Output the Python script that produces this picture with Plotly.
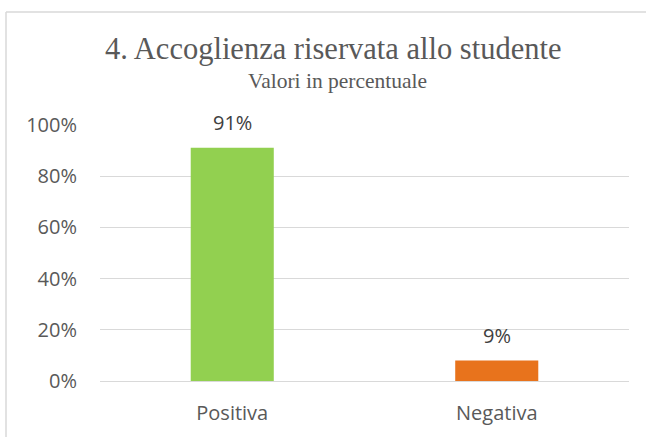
import plotly.graph_objects as go

categories = ["Positiva", "Negativa"]
values = [0.911, 0.08]
value_labels = ["91%", "9%"]
bar_colors = ["#92D050", "#E8731C"]
y_ticks = [0, 0.2, 0.4, 0.6, 0.8, 1.0]
y_tick_labels = ["0%", "20%", "40%", "60%", "80%", "100%"]

title_text = "4. Accoglienza riservata allo studente"
subtitle_text = "Valori in percentuale"

W, H = 646, 437
L, R, T, B = 100, 17, 125, 56
pw = W - L - R
ph = H - T - B

def px_x(x):
    return (x - L) / pw

def px_y(y):
    return (H - B - y) / ph

fig = go.Figure()
fig.add_trace(go.Bar(
    x=categories, y=values,
    marker=dict(color=bar_colors, line=dict(width=0)),
    hoverinfo="skip",
))

annotations = []
for c, v, t in zip(categories, values, value_labels):
    annotations.append(dict(
        x=c, y=v, xref="x", yref="y", text=t, showarrow=False,
        yanchor="middle", yshift=25,
        font=dict(family="Open Sans", size=20, color="#404040"),
    ))
annotations.append(dict(
    x=px_x(333), y=px_y(49), xref="paper", yref="paper", text=title_text,
    showarrow=False, xanchor="center", yanchor="middle",
    font=dict(family="Liberation Serif", size=30.5, color="#595959"),
))
annotations.append(dict(
    x=px_x(337), y=px_y(81), xref="paper", yref="paper", text=subtitle_text,
    showarrow=False, xanchor="center", yanchor="middle",
    font=dict(family="Liberation Serif", size=21.5, color="#595959"),
))

border = "#D9D9D9"
shapes = [
    dict(type="line", xref="paper", yref="paper",
         x0=px_x(6), x1=px_x(6), y0=px_y(12), y1=px_y(437),
         line=dict(color=border, width=1.5)),
    dict(type="line", xref="paper", yref="paper",
         x0=px_x(6), x1=px_x(646), y0=px_y(12), y1=px_y(12),
         line=dict(color=border, width=1.5)),
]

fig.update_layout(
    width=W, height=H,
    margin=dict(l=L, r=R, t=T, b=B, pad=0),
    paper_bgcolor="white", plot_bgcolor="white",
    showlegend=False,
    bargap=0.686,
    annotations=annotations,
    shapes=shapes,
    xaxis=dict(
        type="category", range=[-0.5, 1.5],
        showgrid=False, showline=False, zeroline=False,
        ticks="", ticklabelstandoff=18,
        tickfont=dict(family="Open Sans", size=20, color="#595959"),
    ),
    yaxis=dict(
        range=[0, 1], tickvals=y_ticks, ticktext=y_tick_labels,
        showgrid=True, gridcolor="#D9D9D9", gridwidth=1,
        zeroline=True, zerolinecolor="#D9D9D9", zerolinewidth=1,
        showline=False, ticks="", ticklabelstandoff=22,
        tickfont=dict(family="Open Sans", size=20, color="#595959"),
    ),
)

fig.write_html(
    "out.html",
    config={"displayModeBar": False, "staticPlot": True},
    post_script="document.body.style.margin='0';document.body.style.overflow='hidden';",
)
